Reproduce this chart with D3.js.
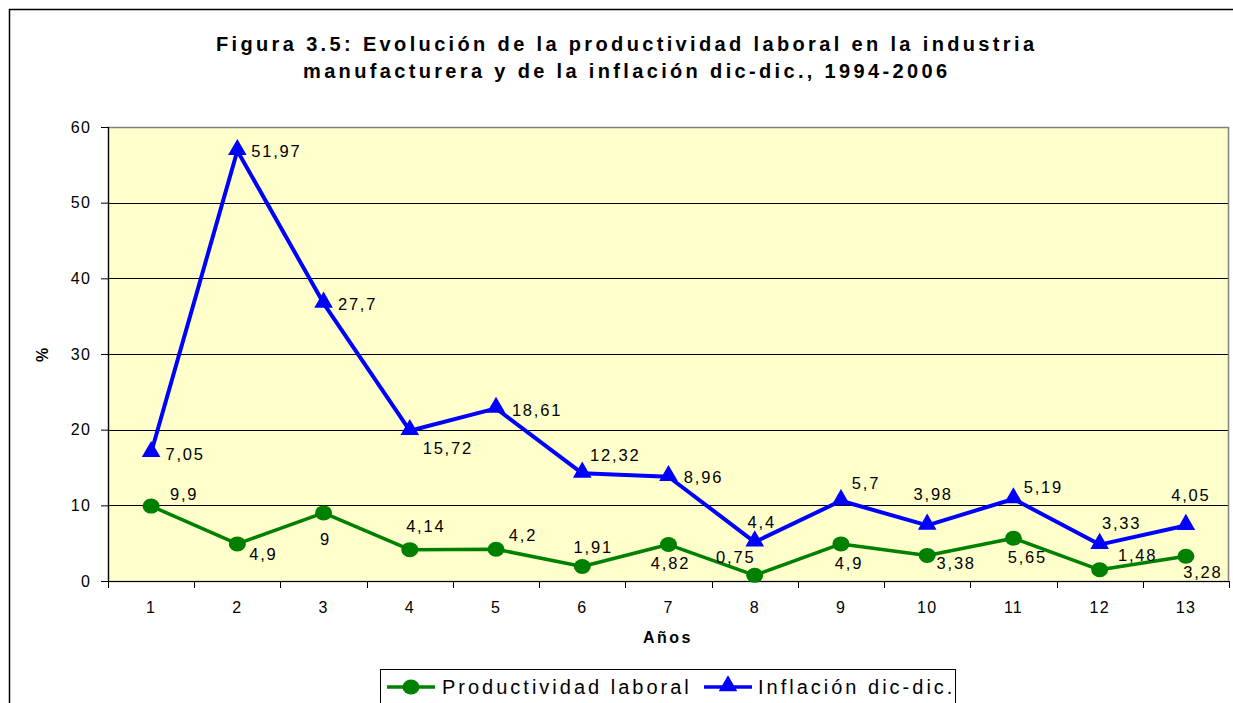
<!DOCTYPE html>
<html>
<head>
<meta charset="utf-8">
<script src="https://cdn.jsdelivr.net/npm/d3@7"></script>
<style>
  html, body { margin: 0; padding: 0; background: #fff; }
  svg { display: block; font-family: Arial, "Liberation Sans", sans-serif; }
</style>
</head>
<body>
<svg id="chart" width="1233" height="703"></svg>
<script>
// chart data
const years = ['1', '2', '3', '4', '5', '6', '7', '8', '9', '10', '11', '12', '13'];
const productividad = [9.9, 4.9, 9, 4.14, 4.2, 1.91, 4.82, 0.75, 4.9, 3.38, 5.65, 1.48, 3.28];
const inflacion = [7.05, 51.97, 27.7, 15.72, 18.61, 12.32, 8.96, 4.4, 5.7, 3.98, 5.19, 3.33, 4.05];
const yTicks = [0, 10, 20, 30, 40, 50, 60];
const titleLines = [
  'Figura 3.5: Evolución de la productividad laboral en la industria',
  'manufacturera y de la inflación dic-dic., 1994-2006'
];

// label offsets (dx, dy) from each marker, as placed in the original
const prodLabelOffset = [[33, -12], [26, 10], [2, 26], [16, -23], [27, -14], [11, -19], [2, 19],
  [-19, -18], [8, 19], [29, 8], [14, 19], [38, -15], [17, 16]];
const inflLabelOffset = [[34, 1], [39, 1], [34, 1], [38, 17], [41, 2], [33, -18], [35, 0],
  [7, -20], [25, -18], [6, -31], [30, -12], [22, -21], [5, -30]];

const svg = d3.select('#chart');
const plot = { left: 108, top: 127, right: 1229, bottom: 581 };

// outer frame (runs past the bottom/right of the window like the source)
svg.append('rect')
  .attr('x', 9.5).attr('y', 9.5)
  .attr('width', 1240).attr('height', 720)
  .attr('fill', '#fff').attr('stroke', '#000').attr('stroke-width', 1.5);

// title
svg.append('g').selectAll('text')
  .data(titleLines)
  .join('text')
  .attr('x', 625)
  .attr('y', (d, i) => 51 + i * 27)
  .attr('text-anchor', 'middle')
  .attr('font-size', 20)
  .attr('font-weight', 'bold')
  .attr('textLength', (d, i) => i === 0 ? 818 : 644)
  .attr('lengthAdjust', 'spacing')
  .text(d => d);

const x = d3.scaleBand().domain(years).range([plot.left, plot.right]).padding(0);
const y = d3.scaleLinear().domain([0, 60]).range([plot.bottom, plot.top]);
const cx = d => x(d) + x.bandwidth() / 2;

// plot background
svg.append('rect')
  .attr('x', plot.left).attr('y', plot.top)
  .attr('width', plot.right - plot.left).attr('height', plot.bottom - plot.top)
  .attr('fill', '#ffffcc');

// gridlines
svg.append('g').selectAll('line')
  .data(yTicks.filter(t => t > 0 && t < 60))
  .join('line')
  .attr('x1', plot.left).attr('x2', plot.right)
  .attr('y1', d => Math.round(y(d)) + 0.5).attr('y2', d => Math.round(y(d)) + 0.5)
  .attr('stroke', '#000').attr('stroke-width', 1);

// plot border (grey)
svg.append('rect')
  .attr('x', plot.left + 0.5).attr('y', plot.top + 0.5)
  .attr('width', plot.right - plot.left - 1).attr('height', plot.bottom - plot.top)
  .attr('fill', 'none').attr('stroke', '#808080').attr('stroke-width', 1.5);

// y axis
const yAxis = svg.append('g')
  .attr('transform', `translate(${plot.left},0)`)
  .call(d3.axisLeft(y).tickValues(yTicks).tickSize(7).tickPadding(10).tickFormat(d3.format('d')));
yAxis.select('.domain').attr('stroke', '#000').attr('stroke-width', 1.2);
yAxis.selectAll('.tick line').attr('stroke', '#000');
yAxis.selectAll('.tick text')
  .attr('font-size', 16).attr('letter-spacing', 1.2)
  .attr('font-family', 'Arial, "Liberation Sans", sans-serif').attr('fill', '#000');

// x axis: ticks on band edges, labels in band centres
const xAxisG = svg.append('g').attr('transform', `translate(0,${plot.bottom})`);
xAxisG.append('line')
  .attr('x1', plot.left).attr('x2', plot.right)
  .attr('y1', 0.5).attr('y2', 0.5)
  .attr('stroke', '#000').attr('stroke-width', 1.2);
const edges = years.map(d => x(d)).concat([plot.right]);
xAxisG.selectAll('line.tk')
  .data(edges)
  .join('line').attr('class', 'tk')
  .attr('x1', d => Math.round(d) + 0.5).attr('x2', d => Math.round(d) + 0.5)
  .attr('y1', 0).attr('y2', 7)
  .attr('stroke', '#000');
xAxisG.selectAll('text')
  .data(years)
  .join('text')
  .attr('x', d => cx(d))
  .attr('y', 32)
  .attr('text-anchor', 'middle')
  .attr('font-size', 16).attr('letter-spacing', 1.2)
  .text(d => d);

// axis titles
svg.append('text')
  .attr('x', 668).attr('y', 643)
  .attr('text-anchor', 'middle')
  .attr('font-size', 16).attr('font-weight', 'bold').attr('letter-spacing', 2.5)
  .text('Años');
svg.append('text')
  .attr('transform', 'translate(48,355) rotate(-90)')
  .attr('text-anchor', 'middle')
  .attr('font-size', 16).attr('font-weight', 'bold')
  .text('%');

// stacked series (inflation line is drawn on top of productivity)
const rows = years.map((yr, i) => ({ year: yr, prod: productividad[i], infl: inflacion[i] }));
const stacked = d3.stack().keys(['prod', 'infl'])(rows);

const series = [
  { key: 'prod', color: '#008000', width: 3.5, values: productividad, offsets: prodLabelOffset },
  { key: 'infl', color: '#0000ff', width: 4, values: inflacion, offsets: inflLabelOffset }
];

const line = d3.line()
  .x(d => cx(d.data.year))
  .y(d => y(d[1]));

const triangle = d3.symbol().type(d3.symbolTriangle).size(150);

series.forEach((s, si) => {
  const layer = stacked[si];
  const g = svg.append('g');
  g.append('path')
    .datum(layer)
    .attr('d', line)
    .attr('fill', 'none')
    .attr('stroke', s.color)
    .attr('stroke-width', s.width)
    .attr('stroke-linejoin', 'round');

  if (s.key === 'prod') {
    g.selectAll('ellipse')
      .data(layer)
      .join('ellipse')
      .attr('cx', d => cx(d.data.year))
      .attr('cy', d => y(d[1]))
      .attr('rx', 8.5).attr('ry', 7.5)
      .attr('fill', s.color);
  } else {
    g.selectAll('path.mk')
      .data(layer)
      .join('path').attr('class', 'mk')
      .attr('transform', d => `translate(${cx(d.data.year)},${y(d[1]) - 1})`)
      .attr('d', triangle)
      .attr('fill', s.color);
  }

  g.selectAll('text')
    .data(layer)
    .join('text')
    .attr('x', (d, i) => cx(d.data.year) + s.offsets[i][0])
    .attr('y', (d, i) => y(d[1]) + s.offsets[i][1])
    .attr('dy', '0.35em')
    .attr('text-anchor', 'middle')
    .attr('font-size', 16.5).attr('letter-spacing', 1.8)
    .attr('fill', '#000')
    .text((d, i) => String(s.values[i]).replace('.', ','));
});

// legend (box runs past the bottom edge)
const legend = svg.append('g');
legend.append('rect')
  .attr('x', 380.5).attr('y', 669.5)
  .attr('width', 575).attr('height', 60)
  .attr('fill', '#fff').attr('stroke', '#000').attr('stroke-width', 1);

const legendItems = [
  { name: 'Productividad laboral', color: '#008000', x0: 387, tx: 442 },
  { name: 'Inflación dic-dic.', color: '#0000ff', x0: 704, tx: 758 }
];
const ly = 687;
legendItems.forEach((it, i) => {
  legend.append('line')
    .attr('x1', it.x0).attr('x2', it.x0 + 48)
    .attr('y1', ly).attr('y2', ly)
    .attr('stroke', it.color).attr('stroke-width', 3.5);
  if (i === 0) {
    legend.append('ellipse')
      .attr('cx', it.x0 + 24).attr('cy', ly)
      .attr('rx', 8.5).attr('ry', 7.5).attr('fill', it.color);
  } else {
    legend.append('path')
      .attr('transform', `translate(${it.x0 + 24},${ly - 1})`)
      .attr('d', triangle).attr('fill', it.color);
  }
  legend.append('text')
    .attr('x', it.tx).attr('y', ly + 7)
    .attr('font-size', 20).attr('letter-spacing', 3)
    .text(it.name);
});
</script>
</body>
</html>
